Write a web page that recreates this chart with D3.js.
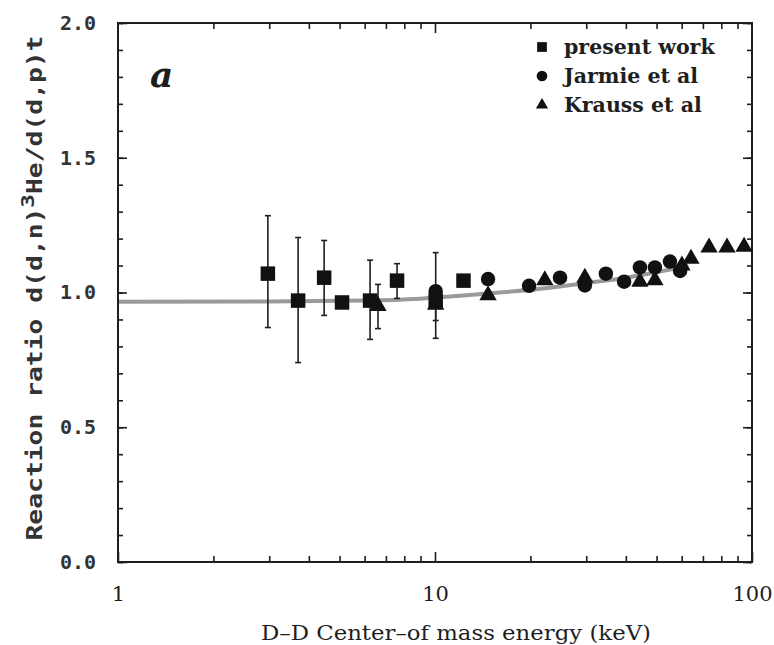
<!DOCTYPE html>
<html>
<head>
<meta charset="utf-8">
<script src="https://cdn.jsdelivr.net/npm/d3@7/dist/d3.min.js"></script>
<style>
  html, body { margin: 0; padding: 0; background: #fff; }
  svg { display: block; }
</style>
</head>
<body>
<svg id="chart" width="774" height="645"></svg>
<script>
// D-D reaction branching ratio versus centre-of-mass energy

// present work (squares) with vertical error bars
const presentE    = [2.97, 3.70, 4.47, 5.09, 6.24, 7.59, 10.05, 12.3];
const presentR    = [1.07, 0.97, 1.055, 0.963, 0.97, 1.044, 0.97, 1.044];
const presentLo   = [0.87, 0.74, 0.915, null, 0.826, 0.978, 0.83, null];
const presentHi   = [1.285, 1.204, 1.193, null, 1.12, 1.107, 1.148, null];

// Jarmie et al (circles)
const jarmieE = [10.05, 14.7, 19.8, 24.8, 29.7, 34.6, 39.5, 44.3, 49.4, 55.1, 59.3];
const jarmieR = [1.005, 1.05, 1.025, 1.055, 1.026, 1.07, 1.04, 1.093, 1.093, 1.115, 1.08];

// Krauss et al (triangles)
const kraussE  = [6.61, 10.05, 14.7, 22.2, 29.7, 44.3, 49.4, 60.1, 64.2, 73.2, 83.4, 94.4];
const kraussR  = [0.95, 0.955, 0.99, 1.045, 1.055, 1.04, 1.045, 1.10, 1.125, 1.167, 1.167, 1.17];
const kraussLo = [0.866, 0.896, null, null, null, null, null, null, null, null, null, null];
const kraussHi = [1.03, 1.02, null, null, null, null, null, null, null, null, null, null];

// smooth fitted curve
const fitE = [1, 3, 6, 9, 12, 16, 20, 30, 40, 50, 63];
const fitR = [0.966, 0.967, 0.97, 0.977, 0.988, 1.0, 1.01, 1.035, 1.055, 1.075, 1.1];

// axis ticks
const xMajor = [1, 10, 100];
const xMinor = [2, 3, 4, 5, 6, 7, 8, 9, 20, 30, 40, 50, 60, 70, 80, 90];
const yMajor = [0, 0.5, 1.0, 1.5, 2.0];
const yMinor = d3.range(0, 21).map(d => d / 10);

const legendLabels = ["present work", "Jarmie et al", "Krauss et al"];
const panelLabel = "a";

const svg = d3.select("#chart");
const pLeft = 118, pRight = 752, pTop = 23, pBottom = 562;
const ink = "#1e1e1e";

const x = d3.scaleLog().domain([1, 100]).range([pLeft, pRight]);
const y = d3.scaleLinear().domain([0, 2]).range([pBottom, pTop]);

// fitted curve underneath the markers
const fit = fitE.map((e, i) => ({ e, r: fitR[i] }));
svg.append("path")
  .datum(fit)
  .attr("d", d3.line().x(d => x(d.e)).y(d => y(d.r)).curve(d3.curveMonotoneX))
  .attr("fill", "none")
  .attr("stroke", "#9a9a9a")
  .attr("stroke-width", 4);

// frame
svg.append("rect")
  .attr("x", pLeft).attr("y", pTop)
  .attr("width", pRight - pLeft).attr("height", pBottom - pTop)
  .attr("fill", "none").attr("stroke", ink).attr("stroke-width", 2);

function tickAxis(axis, tx, ty) {
  const g = svg.append("g").attr("transform", `translate(${tx},${ty})`).call(axis);
  g.select(".domain").remove();
  g.selectAll(".tick line").attr("stroke", ink).attr("stroke-width", 1.6);
  return g;
}

// inward minor and major ticks on all four sides
tickAxis(d3.axisBottom(x).tickValues(xMinor).tickSize(-6).tickFormat(""), 0, pBottom);
tickAxis(d3.axisTop(x).tickValues(xMinor).tickSize(-6).tickFormat(""), 0, pTop);
tickAxis(d3.axisTop(x).tickValues([10]).tickSize(-10).tickFormat(""), 0, pTop);
tickAxis(d3.axisLeft(y).tickValues(yMinor).tickSize(-5).tickFormat(""), pLeft, 0);
tickAxis(d3.axisRight(y).tickValues(yMinor).tickSize(-5).tickFormat(""), pRight, 0);
tickAxis(d3.axisRight(y).tickValues(yMajor).tickSize(-9).tickFormat(""), pRight, 0);

const xg = tickAxis(d3.axisBottom(x).tickValues(xMajor).tickSize(-10).tickPadding(24)
  .tickFormat(d3.format("d")), 0, pBottom);
xg.selectAll("text")
  .attr("font-family", "DejaVu Serif").attr("font-size", 21).attr("fill", ink);

const yg = tickAxis(d3.axisLeft(y).tickValues(yMajor).tickSize(-9).tickPadding(22)
  .tickFormat(d3.format(".1f")), pLeft, 0);
yg.selectAll("text")
  .attr("font-family", "DejaVu Sans Mono").attr("font-weight", "bold")
  .attr("font-size", 20).attr("fill", "#333");

// axis titles
svg.append("text")
  .attr("x", 456).attr("y", 640)
  .attr("text-anchor", "middle")
  .attr("font-family", "DejaVu Serif").attr("font-size", 20).attr("fill", ink)
  .attr("textLength", 390).attr("lengthAdjust", "spacingAndGlyphs")
  .text("D\u2013D Center\u2013of mass energy (keV)");

const yt = svg.append("text")
  .attr("transform", "translate(42,288) rotate(-90)")
  .attr("text-anchor", "middle")
  .attr("font-family", "DejaVu Sans Mono").attr("font-weight", "bold")
  .attr("font-size", 21).attr("fill", "#333")
  .attr("textLength", 505).attr("lengthAdjust", "spacingAndGlyphs");
yt.append("tspan").text("Reaction ratio d(d,n)");
yt.append("tspan").attr("dy", -8).attr("font-size", 18).text("3");
yt.append("tspan").attr("dy", 8).text("He/d(d,p)t");

// panel label
svg.append("text")
  .attr("x", 150).attr("y", 87)
  .attr("font-family", "DejaVu Serif").attr("font-style", "italic").attr("font-weight", "bold")
  .attr("font-size", 36).attr("fill", ink)
  .text(panelLabel);

// error bars with small caps
function errorBars(E, lo, hi) {
  const rows = E.map((e, i) => ({ e, lo: lo[i], hi: hi[i] })).filter(d => d.lo != null);
  const g = svg.append("g").attr("stroke", ink).attr("stroke-width", 1.6);
  g.selectAll("line.bar").data(rows).join("line").attr("class", "bar")
    .attr("x1", d => x(d.e)).attr("x2", d => x(d.e))
    .attr("y1", d => y(d.lo)).attr("y2", d => y(d.hi));
  g.selectAll("line.capHi").data(rows).join("line").attr("class", "capHi")
    .attr("x1", d => x(d.e) - 3).attr("x2", d => x(d.e) + 3)
    .attr("y1", d => y(d.hi)).attr("y2", d => y(d.hi));
  g.selectAll("line.capLo").data(rows).join("line").attr("class", "capLo")
    .attr("x1", d => x(d.e) - 3).attr("x2", d => x(d.e) + 3)
    .attr("y1", d => y(d.lo)).attr("y2", d => y(d.lo));
}
errorBars(presentE, presentLo, presentHi);
errorBars(kraussE, kraussLo, kraussHi);

const sq = d3.symbol().type(d3.symbolSquare).size(210)();
const ci = d3.symbol().type(d3.symbolCircle).size(165)();
const tr = d3.symbol().type(d3.symbolTriangle).size(130)();

function markers(E, R, path) {
  svg.append("g").selectAll("path").data(E.map((e, i) => ({ e, r: R[i] }))).join("path")
    .attr("d", path)
    .attr("transform", d => `translate(${x(d.e)},${y(d.r)})`)
    .attr("fill", "#111");
}
markers(kraussE, kraussR, tr);
markers(jarmieE, jarmieR, ci);
markers(presentE, presentR, sq);

// legend
const legendSyms = [
  d3.symbol().type(d3.symbolSquare).size(95)(),
  d3.symbol().type(d3.symbolCircle).size(90)(),
  d3.symbol().type(d3.symbolTriangle).size(65)()
];
const lg = svg.append("g");
legendLabels.forEach((label, i) => {
  const cy = 47 + i * 29;
  lg.append("path").attr("d", legendSyms[i])
    .attr("transform", `translate(542,${cy})`).attr("fill", "#111");
  lg.append("text")
    .attr("x", 564).attr("y", cy + 7)
    .attr("font-family", "DejaVu Serif").attr("font-weight", "bold")
    .attr("font-size", 20.5).attr("fill", ink)
    .text(label);
});
</script>
</body>
</html>
